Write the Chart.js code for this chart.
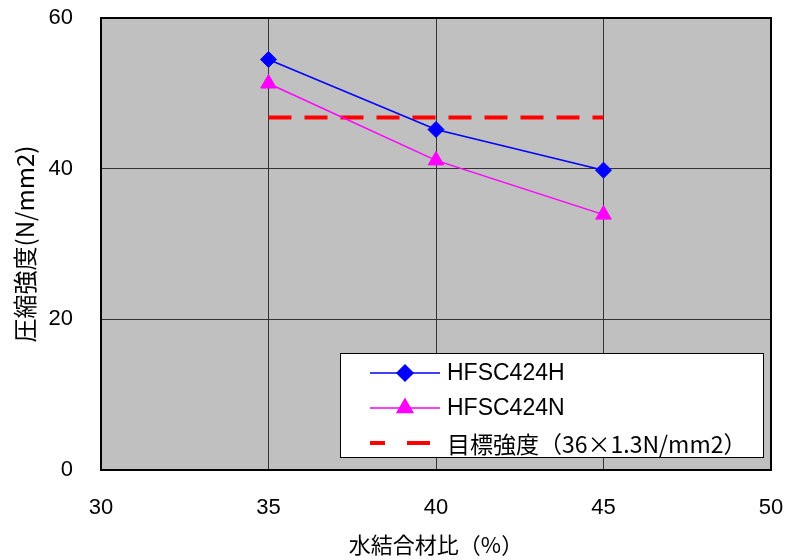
<!DOCTYPE html>
<html>
<head>
<meta charset="utf-8">
<script src="https://cdn.jsdelivr.net/npm/chart.js@4"></script>
<style>
  html, body { margin: 0; padding: 0; background: #ffffff; }
  #wrap { width: 787px; height: 560px; }
</style>
</head>
<body>
<div id="wrap"><canvas id="c" width="787" height="560"></canvas></div>
<script>
// 水結合材比 (%)
const ratios = [35, 40, 45];
// 圧縮強度 (N/mm2)
const strengthH = [54.5, 45.2, 39.8];
const strengthN = [51.3, 41.1, 33.9];
// 目標強度 36 × 1.3
const targetStrength = [46.8, 46.8, 46.8];

const seriesLabels = ['HFSC424H', 'HFSC424N', '目標強度（36×1.3N/mm2）'];
const xTicks = [30, 35, 40, 45, 50];
const yTicks = [0, 20, 40, 60];

const pts = (ys) => ratios.map((x, i) => ({ x: x, y: ys[i] }));

const JP = "'Noto Sans CJK JP', sans-serif";
const LATIN = "'Liberation Sans', Arial, sans-serif";

// Gray plot background and black frame
const plotFrame = {
  id: 'plotFrame',
  beforeDraw(chart) {
    const { ctx, chartArea: a } = chart;
    ctx.save();
    ctx.fillStyle = '#c0c0c0';
    ctx.fillRect(a.left, a.top, a.right - a.left, a.bottom - a.top);
    ctx.restore();
  },
  afterDatasetsDraw(chart) {
    const { ctx, chartArea: a } = chart;
    ctx.save();
    ctx.strokeStyle = '#000000';
    ctx.lineWidth = 2;
    ctx.strokeRect(a.left, a.top, a.right - a.left, a.bottom - a.top);
    ctx.restore();
  }
};

// Boxed legend in the lower right of the plot
const boxLegend = {
  id: 'boxLegend',
  afterDraw(chart) {
    const { ctx, chartArea: a } = chart;
    const bx = a.left + 239, by = a.top + 335, bw = 423, bh = 104;
    ctx.save();
    ctx.fillStyle = '#ffffff';
    ctx.fillRect(bx, by, bw, bh);
    ctx.strokeStyle = '#000000';
    ctx.lineWidth = 1;
    ctx.strokeRect(bx + 0.5, by + 0.5, bw, bh);
    const rowY = [by + 20, by + 55, by + 90];
    const sx0 = bx + 30, sx1 = bx + 100, mx = bx + 65, tx = bx + 107;
    chart.data.datasets.forEach((ds, i) => {
      const y = rowY[i];
      ctx.save();
      ctx.strokeStyle = ds.borderColor;
      ctx.fillStyle = ds.backgroundColor;
      ctx.lineWidth = ds.borderWidth;
      ctx.beginPath();
      if (ds.borderDash && ds.borderDash.length) {
        ctx.moveTo(sx0, y);
        ctx.lineTo(sx0 + 15, y);
        ctx.moveTo(sx0 + 37, y);
        ctx.lineTo(sx0 + 60, y);
        ctx.stroke();
      } else {
        ctx.moveTo(sx0, y);
        ctx.lineTo(sx1, y);
        ctx.stroke();
        Chart.helpers.drawPoint(ctx, {
          pointStyle: ds.pointStyle,
          radius: ds.pointRadius,
          borderWidth: 1,
          rotation: 0
        }, mx, y);
      }
      ctx.restore();
      ctx.save();
      ctx.fillStyle = '#000000';
      ctx.textBaseline = 'middle';
      ctx.font = i === 2 ? "23px " + JP : "23px " + LATIN;
      ctx.fillText(ds.label, tx, y + 1);
      ctx.restore();
    });
    ctx.restore();
  }
};

new Chart(document.getElementById('c'), {
  type: 'line',
  data: {
    datasets: [
      {
        label: seriesLabels[0],
        data: pts(strengthH),
        borderColor: '#0000ff',
        backgroundColor: '#0000ff',
        borderWidth: 1.5,
        pointStyle: 'rectRot',
        pointRadius: 8,
        pointBorderWidth: 1,
        pointBackgroundColor: '#0000ff',
        pointBorderColor: '#0000ff',
        tension: 0
      },
      {
        label: seriesLabels[1],
        data: pts(strengthN),
        borderColor: '#ff00ff',
        backgroundColor: '#ff00ff',
        borderWidth: 1.5,
        pointStyle: 'triangle',
        pointRadius: 9,
        pointBorderWidth: 1,
        pointBackgroundColor: '#ff00ff',
        pointBorderColor: '#ff00ff',
        tension: 0
      },
      {
        label: seriesLabels[2],
        data: pts(targetStrength),
        borderColor: '#ff0000',
        backgroundColor: '#ff0000',
        borderWidth: 4,
        borderDash: [23, 13],
        pointRadius: 0,
        tension: 0
      }
    ]
  },
  options: {
    responsive: false,
    animation: false,
    layout: { padding: { top: 18, right: 16, left: 0, bottom: 0 } },
    plugins: {
      legend: { display: false },
      tooltip: { enabled: false }
    },
    scales: {
      x: {
        type: 'linear',
        min: xTicks[0],
        max: xTicks[xTicks.length - 1],
        afterBuildTicks(scale) { scale.ticks = xTicks.map(v => ({ value: v })); },
        afterFit(scale) {
          scale.height = 90;
          scale.paddingLeft = 0;
          scale.paddingRight = 0;
        },
        grid: { color: '#333333', lineWidth: 1, drawTicks: false },
        border: { display: false },
        ticks: {
          padding: 25,
          color: '#000000',
          font: { family: LATIN, size: 22 }
        },
        title: {
          display: true,
          text: '水結合材比（%）',
          color: '#000000',
          font: { family: JP, size: 22 },
          padding: { top: 0, bottom: 2 }
        }
      },
      y: {
        min: yTicks[0],
        max: yTicks[yTicks.length - 1],
        afterBuildTicks(scale) { scale.ticks = yTicks.map(v => ({ value: v })); },
        afterFit(scale) {
          scale.width = 101;
          scale.paddingTop = 0;
          scale.paddingBottom = 0;
        },
        grid: { color: '#333333', lineWidth: 1, drawTicks: false },
        border: { display: false },
        ticks: {
          padding: 28,
          color: '#000000',
          font: { family: LATIN, size: 22 }
        },
        title: {
          display: true,
          text: '圧縮強度(N/mm2)',
          color: '#000000',
          font: { family: JP, size: 24 },
          padding: { top: 10, bottom: 0 }
        }
      }
    }
  },
  plugins: [plotFrame, boxLegend]
});
</script>
</body>
</html>
